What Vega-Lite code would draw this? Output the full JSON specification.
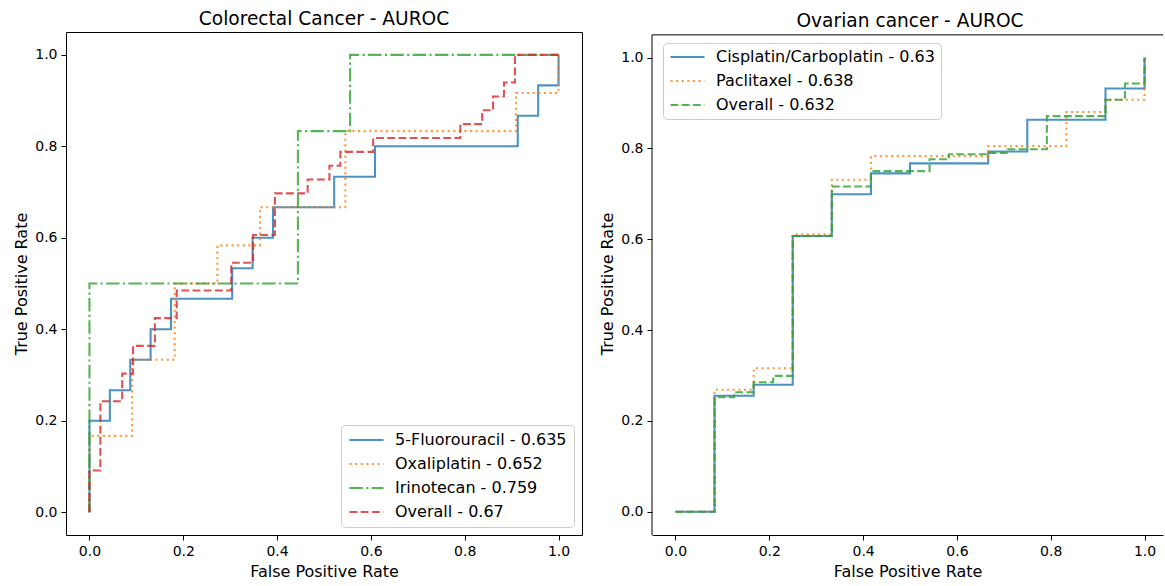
{
  "$schema": "https://vega.github.io/schema/vega-lite/v6.json",
  "padding": {"left": 13, "top": 9, "right": 0, "bottom": 0},
  "background": "white",
  "config": {
    "font": "DejaVu Sans",
    "view": {"stroke": "black", "strokeWidth": 1},
    "axis": {"grid": false, "domain": false, "tickColor": "black", "tickSize": 5, "tickWidth": 1,
             "labelFont": "DejaVu Sans", "labelFontSize": 14, "labelColor": "black", "labelPadding": 4,
             "titleFont": "DejaVu Sans", "titleFontSize": 16, "titleFontWeight": "normal", "titleColor": "black", "titlePadding": 5},
    "title": {"font": "DejaVu Sans", "fontSize": 18.6, "fontWeight": "normal", "color": "black", "anchor": "middle", "frame": "group"},
    "legend": {"labelFont": "DejaVu Sans", "labelFontSize": 16, "labelColor": "black", "labelLimit": 400,
               "symbolType": "stroke", "symbolSize": 1156, "symbolStrokeWidth": 2.1, "symbolOpacity": 0.8,
               "labelOffset": 10, "rowPadding": 8, "clipHeight": 16, "strokeColor": "#cccccc", "fillColor": "rgba(255,255,255,0.8)",
               "cornerRadius": 4, "titlePadding": 0}
  },
  "datasets": {
    "colorectal": [
      {"series": "5-Fluorouracil - 0.635", "i": 0, "fpr": 0, "tpr": 0},
      {"series": "5-Fluorouracil - 0.635", "i": 1, "fpr": 0, "tpr": 0.2},
      {"series": "5-Fluorouracil - 0.635", "i": 2, "fpr": 0.0435, "tpr": 0.2667},
      {"series": "5-Fluorouracil - 0.635", "i": 3, "fpr": 0.087, "tpr": 0.3333},
      {"series": "5-Fluorouracil - 0.635", "i": 4, "fpr": 0.1304, "tpr": 0.4},
      {"series": "5-Fluorouracil - 0.635", "i": 5, "fpr": 0.1739, "tpr": 0.4667},
      {"series": "5-Fluorouracil - 0.635", "i": 6, "fpr": 0.3043, "tpr": 0.5333},
      {"series": "5-Fluorouracil - 0.635", "i": 7, "fpr": 0.3478, "tpr": 0.6},
      {"series": "5-Fluorouracil - 0.635", "i": 8, "fpr": 0.3913, "tpr": 0.6667},
      {"series": "5-Fluorouracil - 0.635", "i": 9, "fpr": 0.5217, "tpr": 0.7333},
      {"series": "5-Fluorouracil - 0.635", "i": 10, "fpr": 0.6087, "tpr": 0.8},
      {"series": "5-Fluorouracil - 0.635", "i": 11, "fpr": 0.913, "tpr": 0.8667},
      {"series": "5-Fluorouracil - 0.635", "i": 12, "fpr": 0.9565, "tpr": 0.9333},
      {"series": "5-Fluorouracil - 0.635", "i": 13, "fpr": 1, "tpr": 1},
      {"series": "Oxaliplatin - 0.652", "i": 0, "fpr": 0, "tpr": 0},
      {"series": "Oxaliplatin - 0.652", "i": 1, "fpr": 0, "tpr": 0.1667},
      {"series": "Oxaliplatin - 0.652", "i": 2, "fpr": 0.0909, "tpr": 0.3333},
      {"series": "Oxaliplatin - 0.652", "i": 3, "fpr": 0.1818, "tpr": 0.5},
      {"series": "Oxaliplatin - 0.652", "i": 4, "fpr": 0.2727, "tpr": 0.5833},
      {"series": "Oxaliplatin - 0.652", "i": 5, "fpr": 0.3636, "tpr": 0.6667},
      {"series": "Oxaliplatin - 0.652", "i": 6, "fpr": 0.5455, "tpr": 0.8333},
      {"series": "Oxaliplatin - 0.652", "i": 7, "fpr": 0.9091, "tpr": 0.9167},
      {"series": "Oxaliplatin - 0.652", "i": 8, "fpr": 1, "tpr": 1},
      {"series": "Irinotecan - 0.759", "i": 0, "fpr": 0, "tpr": 0},
      {"series": "Irinotecan - 0.759", "i": 1, "fpr": 0, "tpr": 0.5},
      {"series": "Irinotecan - 0.759", "i": 2, "fpr": 0.4444, "tpr": 0.8333},
      {"series": "Irinotecan - 0.759", "i": 3, "fpr": 0.5556, "tpr": 1},
      {"series": "Irinotecan - 0.759", "i": 4, "fpr": 1, "tpr": 1},
      {"series": "Overall - 0.67", "i": 0, "fpr": 0, "tpr": 0},
      {"series": "Overall - 0.67", "i": 1, "fpr": 0, "tpr": 0.0909},
      {"series": "Overall - 0.67", "i": 2, "fpr": 0.0233, "tpr": 0.2424},
      {"series": "Overall - 0.67", "i": 3, "fpr": 0.0698, "tpr": 0.303},
      {"series": "Overall - 0.67", "i": 4, "fpr": 0.093, "tpr": 0.3636},
      {"series": "Overall - 0.67", "i": 5, "fpr": 0.1395, "tpr": 0.4242},
      {"series": "Overall - 0.67", "i": 6, "fpr": 0.186, "tpr": 0.4848},
      {"series": "Overall - 0.67", "i": 7, "fpr": 0.3023, "tpr": 0.5455},
      {"series": "Overall - 0.67", "i": 8, "fpr": 0.3488, "tpr": 0.6061},
      {"series": "Overall - 0.67", "i": 9, "fpr": 0.3953, "tpr": 0.697},
      {"series": "Overall - 0.67", "i": 10, "fpr": 0.4651, "tpr": 0.7273},
      {"series": "Overall - 0.67", "i": 11, "fpr": 0.5116, "tpr": 0.7576},
      {"series": "Overall - 0.67", "i": 12, "fpr": 0.5349, "tpr": 0.7879},
      {"series": "Overall - 0.67", "i": 13, "fpr": 0.6047, "tpr": 0.8182},
      {"series": "Overall - 0.67", "i": 14, "fpr": 0.7907, "tpr": 0.8485},
      {"series": "Overall - 0.67", "i": 15, "fpr": 0.8372, "tpr": 0.8788},
      {"series": "Overall - 0.67", "i": 16, "fpr": 0.8605, "tpr": 0.9091},
      {"series": "Overall - 0.67", "i": 17, "fpr": 0.8837, "tpr": 0.9394},
      {"series": "Overall - 0.67", "i": 18, "fpr": 0.907, "tpr": 1},
      {"series": "Overall - 0.67", "i": 19, "fpr": 1, "tpr": 1}
    ],
    "ovarian": [
      {"series": "Cisplatin/Carboplatin - 0.63", "i": 0, "fpr": 0, "tpr": 0},
      {"series": "Cisplatin/Carboplatin - 0.63", "i": 1, "fpr": 0.0833, "tpr": 0.2553},
      {"series": "Cisplatin/Carboplatin - 0.63", "i": 2, "fpr": 0.1667, "tpr": 0.2795},
      {"series": "Cisplatin/Carboplatin - 0.63", "i": 3, "fpr": 0.25, "tpr": 0.607},
      {"series": "Cisplatin/Carboplatin - 0.63", "i": 4, "fpr": 0.3333, "tpr": 0.699},
      {"series": "Cisplatin/Carboplatin - 0.63", "i": 5, "fpr": 0.4167, "tpr": 0.745},
      {"series": "Cisplatin/Carboplatin - 0.63", "i": 6, "fpr": 0.5, "tpr": 0.767},
      {"series": "Cisplatin/Carboplatin - 0.63", "i": 7, "fpr": 0.6667, "tpr": 0.793},
      {"series": "Cisplatin/Carboplatin - 0.63", "i": 8, "fpr": 0.75, "tpr": 0.863},
      {"series": "Cisplatin/Carboplatin - 0.63", "i": 9, "fpr": 0.9167, "tpr": 0.932},
      {"series": "Cisplatin/Carboplatin - 0.63", "i": 10, "fpr": 1, "tpr": 1},
      {"series": "Paclitaxel - 0.638", "i": 0, "fpr": 0, "tpr": 0},
      {"series": "Paclitaxel - 0.638", "i": 1, "fpr": 0.0833, "tpr": 0.2685},
      {"series": "Paclitaxel - 0.638", "i": 2, "fpr": 0.1667, "tpr": 0.316},
      {"series": "Paclitaxel - 0.638", "i": 3, "fpr": 0.25, "tpr": 0.611},
      {"series": "Paclitaxel - 0.638", "i": 4, "fpr": 0.3333, "tpr": 0.731},
      {"series": "Paclitaxel - 0.638", "i": 5, "fpr": 0.4167, "tpr": 0.783},
      {"series": "Paclitaxel - 0.638", "i": 6, "fpr": 0.6667, "tpr": 0.805},
      {"series": "Paclitaxel - 0.638", "i": 7, "fpr": 0.8333, "tpr": 0.88},
      {"series": "Paclitaxel - 0.638", "i": 8, "fpr": 0.9167, "tpr": 0.907},
      {"series": "Paclitaxel - 0.638", "i": 9, "fpr": 1, "tpr": 1},
      {"series": "Overall - 0.632", "i": 0, "fpr": 0, "tpr": 0},
      {"series": "Overall - 0.632", "i": 1, "fpr": 0.0833, "tpr": 0.252},
      {"series": "Overall - 0.632", "i": 2, "fpr": 0.125, "tpr": 0.263},
      {"series": "Overall - 0.632", "i": 3, "fpr": 0.1667, "tpr": 0.285},
      {"series": "Overall - 0.632", "i": 4, "fpr": 0.2083, "tpr": 0.299},
      {"series": "Overall - 0.632", "i": 5, "fpr": 0.25, "tpr": 0.607},
      {"series": "Overall - 0.632", "i": 6, "fpr": 0.3333, "tpr": 0.716},
      {"series": "Overall - 0.632", "i": 7, "fpr": 0.4167, "tpr": 0.75},
      {"series": "Overall - 0.632", "i": 8, "fpr": 0.5417, "tpr": 0.776},
      {"series": "Overall - 0.632", "i": 9, "fpr": 0.5833, "tpr": 0.787},
      {"series": "Overall - 0.632", "i": 10, "fpr": 0.6667, "tpr": 0.79},
      {"series": "Overall - 0.632", "i": 11, "fpr": 0.7083, "tpr": 0.798},
      {"series": "Overall - 0.632", "i": 12, "fpr": 0.7917, "tpr": 0.871},
      {"series": "Overall - 0.632", "i": 13, "fpr": 0.9167, "tpr": 0.907},
      {"series": "Overall - 0.632", "i": 14, "fpr": 0.9583, "tpr": 0.943},
      {"series": "Overall - 0.632", "i": 15, "fpr": 1, "tpr": 1}
    ]
  },
  "hconcat": [
    {
      "title": {"text": "Colorectal Cancer - AUROC", "offset": 3},
      "width": 516,
      "height": 503,
      "data": {"name": "colorectal"},
      "mark": {"type": "line", "interpolate": "step-after", "strokeWidth": 2.1, "opacity": 0.8, "strokeCap": "butt"},
      "encoding": {
        "x": {"field": "fpr", "type": "quantitative", "scale": {"domain": [-0.05, 1.05], "nice": false, "zero": false},
              "axis": {"values": [0, 0.2, 0.4, 0.6, 0.8, 1.0], "format": ".1f", "title": "False Positive Rate"}},
        "y": {"field": "tpr", "type": "quantitative", "scale": {"domain": [-0.05, 1.05], "nice": false, "zero": false},
              "axis": {"values": [0, 0.2, 0.4, 0.6, 0.8, 1.0], "format": ".1f", "title": "True Positive Rate"}},
        "order": {"field": "i", "type": "quantitative"},
        "color": {"field": "series", "type": "nominal",
                  "scale": {"domain": ["5-Fluorouracil - 0.635", "Oxaliplatin - 0.652", "Irinotecan - 0.759", "Overall - 0.67"],
                            "range": ["#1f77b4", "#ff7f0e", "#2ca02c", "#d62728"]},
                  "legend": {"title": null, "orient": "bottom-right", "offset": 8, "padding": 7}},
        "strokeDash": {"field": "series", "type": "nominal",
                       "scale": {"domain": ["5-Fluorouracil - 0.635", "Oxaliplatin - 0.652", "Irinotecan - 0.759", "Overall - 0.67"],
                                 "range": [[1, 0], [2.1, 3.5], [13.4, 3.4, 2.1, 3.4], [7.8, 3.4]]},
                       "legend": {"title": null, "orient": "bottom-right", "offset": 8, "padding": 7}}
      }
    },
    {
      "title": {"text": "Ovarian cancer - AUROC", "offset": 1.5, "dx": 2.5},
      "width": 511,
      "height": 503,
      "view": {"stroke": null},
      "layer": [
        {
          "data": {"name": "ovarian"},
          "mark": {"type": "line", "interpolate": "step-after", "strokeWidth": 2.1, "opacity": 0.8, "strokeCap": "butt"},
          "encoding": {
            "x": {"field": "fpr", "type": "quantitative", "scale": {"domain": [-0.05, 1.0393], "nice": false, "zero": false},
                  "axis": {"values": [0, 0.2, 0.4, 0.6, 0.8, 1.0], "format": ".1f", "title": "False Positive Rate", "domain": true, "domainColor": "black", "domainWidth": 1}},
            "y": {"field": "tpr", "type": "quantitative", "scale": {"domain": [-0.0513, 1.0563], "nice": false, "zero": false},
                  "axis": {"values": [0, 0.2, 0.4, 0.6, 0.8, 1.0], "format": ".1f", "title": "True Positive Rate"}},
            "order": {"field": "i", "type": "quantitative"},
            "color": {"field": "series", "type": "nominal",
                      "scale": {"domain": ["Cisplatin/Carboplatin - 0.63", "Paclitaxel - 0.638", "Overall - 0.632"],
                                "range": ["#1f77b4", "#ff7f0e", "#2ca02c"]},
                      "legend": {"title": null, "orient": "top-left", "offset": 11.3, "padding": 6}},
            "strokeDash": {"field": "series", "type": "nominal",
                           "scale": {"domain": ["Cisplatin/Carboplatin - 0.63", "Paclitaxel - 0.638", "Overall - 0.632"],
                                     "range": [[1, 0], [2.1, 3.5], [7.8, 3.4]]},
                           "legend": {"title": null, "orient": "top-left", "offset": 11.3, "padding": 6}}
          }
        },
        {
          "data": {"values": [{}]},
          "mark": {"type": "rule", "color": "black", "strokeWidth": 1},
          "encoding": {"y": {"datum": 1.05}}
        },
        {
          "data": {"values": [{}]},
          "mark": {"type": "rule", "color": "black", "strokeWidth": 1},
          "encoding": {"x": {"datum": -0.05}, "y": {"datum": -0.0513}, "y2": {"datum": 1.05}}
        }
      ]
    }
  ],
  "spacing": 16,
  "resolve": {"scale": {"color": "independent", "strokeDash": "independent", "x": "independent", "y": "independent"},
              "legend": {"color": "independent", "strokeDash": "independent"}}
}
